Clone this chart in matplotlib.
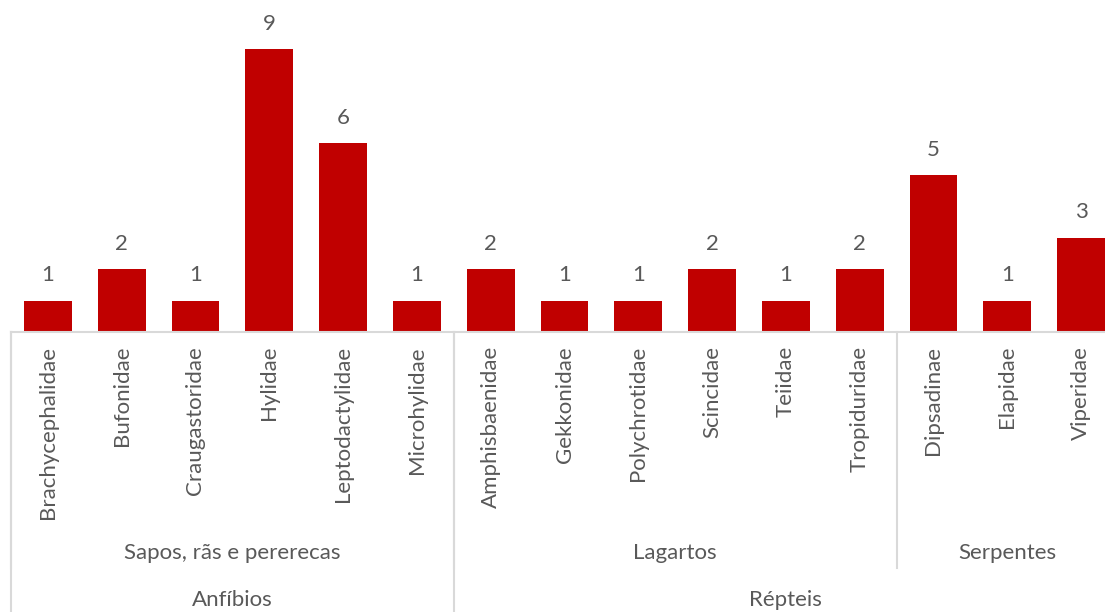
import matplotlib.pyplot as plt
from matplotlib.transforms import blended_transform_factory

families = ["Brachycephalidae", "Bufonidae", "Craugastoridae", "Hylidae", "Leptodactylidae",
            "Microhylidae", "Amphisbaenidae", "Gekkonidae", "Polychrotidae", "Scincidae",
            "Teiidae", "Tropiduridae", "Dipsadinae", "Elapidae", "Viperidae"]
counts = [1, 2, 1, 9, 6, 1, 2, 1, 1, 2, 1, 2, 5, 1, 3]

# (label, first index, last index)
subgroups = [("Sapos, rãs e pererecas", 0, 5), ("Lagartos", 6, 11), ("Serpentes", 12, 14)]
groups = [("Anfíbios", 0, 5), ("Répteis", 6, 14)]

bar_color = "#C00000"
text_color = "#595959"
line_color = "#D9D9D9"
W, H = 1105, 612
fs = 16

plt.rcParams['font.family'] = ['Lato', 'DejaVu Sans']

fig = plt.figure(figsize=(W / 100, H / 100), dpi=100)
ax = fig.add_axes([11 / W, (H - 332) / H, 1107 / W, 332 / H])

x = list(range(len(families)))
bars = ax.bar(x, counts, width=0.65, color=bar_color)
for b, v in zip(bars, counts):
    ax.annotate(str(v), (b.get_x() + b.get_width() / 2, v), xytext=(0, 11),
                textcoords="offset points", ha="center", va="bottom",
                fontsize=fs, color=text_color)

ax.set_xlim(-0.5, len(families) - 0.5)
ax.set_ylim(0, 10.56)
ax.set_xticks([])
ax.set_yticks([])
for s in ["top", "right", "left"]:
    ax.spines[s].set_visible(False)
ax.spines["bottom"].set_color(line_color)
ax.spines["bottom"].set_linewidth(1.5)

tr = blended_transform_factory(ax.transData, fig.transFigure)

def py(p):
    # pixel row from the top -> figure fraction
    return (H - p) / H

for i, name in enumerate(families):
    ax.text(i, py(346), name, transform=tr, rotation=90, ha="center", va="top",
            fontsize=fs, color=text_color)

for label, a, b in subgroups:
    ax.text((a + b) / 2, py(553), label, transform=tr, ha="center", va="center",
            fontsize=fs, color=text_color)
for label, a, b in groups:
    ax.text((a + b) / 2, py(600), label, transform=tr, ha="center", va="center",
            fontsize=fs, color=text_color)

# separators between category groups
for label, a, b in subgroups:
    ax.plot([a - 0.5, a - 0.5], [py(332), py(568)], transform=tr, color=line_color,
            lw=1.5, clip_on=False)
for label, a, b in groups:
    ax.plot([a - 0.5, a - 0.5], [py(332), 0], transform=tr, color=line_color,
            lw=1.5, clip_on=False)

fig.savefig("out.png", dpi=100)
